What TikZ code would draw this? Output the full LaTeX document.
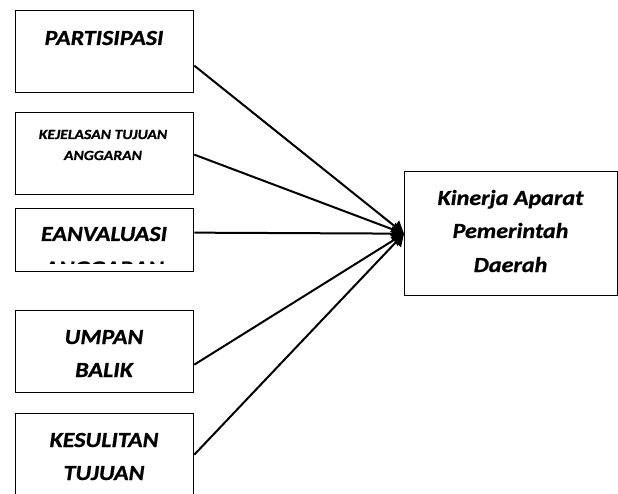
\documentclass[tikz,border=0pt]{standalone}
\usepackage{fontspec}
\setmainfont{Carlito}[FakeStretch=1.12,BoldItalicFeatures={FakeBold=0.8}]
\usetikzlibrary{arrows.meta}
\begin{document}
\begin{tikzpicture}[x=1bp,y=-1bp,
  box/.style={draw,line width=1.3bp,inner sep=0pt,anchor=north west},
  lbl/.style={font=\fontsize{21.5bp}{33bp}\selectfont\bfseries\itshape,anchor=base,inner sep=0pt},
  small/.style={font=\fontsize{14bp}{21bp}\selectfont\bfseries\itshape,anchor=base,inner sep=0pt},
  conn/.style={line width=2bp,-{Triangle[length=12bp,width=14bp]}}]
\path[use as bounding box,clip] (0,0) rectangle (618,494);
% boxes
\node[box,minimum width=178bp,minimum height=82bp] (b1) at (15,10) {};
\node[box,minimum width=178bp,minimum height=82bp] (b2) at (15,112) {};
\node[box,minimum width=178bp,minimum height=63bp] (b3) at (15,208) {};
\node[box,minimum width=178bp,minimum height=82bp] (b4) at (15,310) {};
\node[box,minimum width=178bp,minimum height=100bp] (b5) at (15,413) {};
\node[box,minimum width=213bp,minimum height=124bp] (t) at (404,171) {};
% texts
\node[lbl] (p1) at (104,45) {PARTISIPASI};
\node[small] (k1) at (103,139) {KEJELASAN TUJUAN};
\node[small] (k2) at (103,160) {ANGGARAN};
\node[lbl] (e1) at (104,241) {EANVALUASI};
\begin{scope}
  \clip (15,208) rectangle (193,263);
  \node[lbl] (e2) at (104,275.5) {ANGGARAN};
\end{scope}
\node[lbl] (u1) at (104,344) {UMPAN};
\node[lbl] (u2) at (104,377) {BALIK};
\node[lbl] (s1) at (104,447) {KESULITAN};
\node[lbl] (s2) at (104,480) {TUJUAN};
\node[lbl] (t1) at (510.5,205) {Kinerja Aparat};
\node[lbl] (t2) at (510.5,238) {Pemerintah};
\node[lbl] (t3) at (510.5,272) {Daerah};
% connectors
\draw[conn] ([yshift=-14bp]b1.east) -- (t.west);
\draw[conn] ([yshift=-1bp]b2.east) -- (t.west);
\draw[conn] ([yshift=7.5bp]b3.east) -- (t.west);
\draw[conn] ([yshift=-13bp]b4.east) -- (t.west);
\draw[conn] ([yshift=9bp]b5.east) -- (t.west);
\end{tikzpicture}
\end{document}
